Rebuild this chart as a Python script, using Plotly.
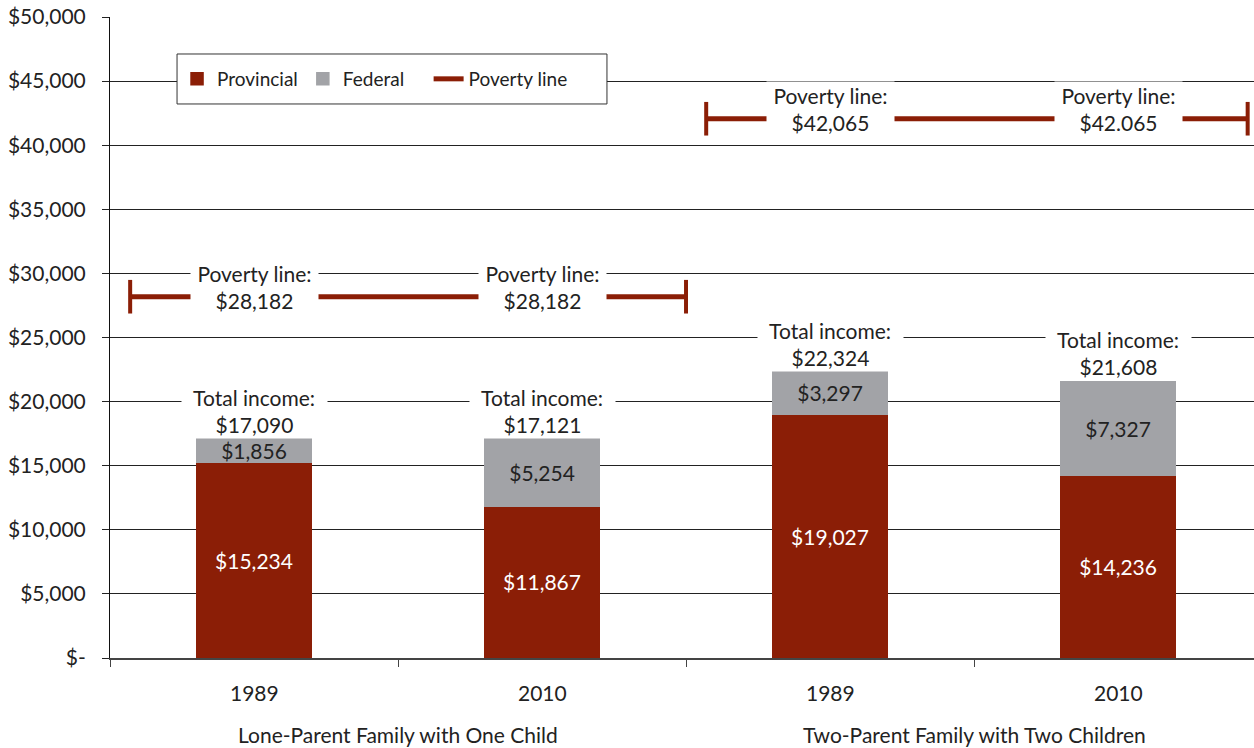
import plotly.graph_objects as go

# ---- data ----
years = ["1989", "2010", "1989", "2010"]
groups = ["Lone-Parent Family with One Child", "Two-Parent Family with Two Children"]
provincial = [15234, 11867, 19027, 14236]
federal = [1856, 5254, 3297, 7327]
total_income = [17090, 17121, 22324, 21608]
provincial_labels = ["$15,234", "$11,867", "$19,027", "$14,236"]
federal_labels = ["$1,856", "$5,254", "$3,297", "$7,327"]
total_labels = ["$17,090", "$17,121", "$22,324", "$21,608"]
poverty_line = [28182, 42065]
poverty_labels = ["$28,182", "$28,182", "$42,065", "$42.065"]
y_tickvals = [0, 5000, 10000, 15000, 20000, 25000, 30000, 35000, 40000, 45000, 50000]
y_ticktext = ["$-", "$5,000", "$10,000", "$15,000", "$20,000", "$25,000",
              "$30,000", "$35,000", "$40,000", "$45,000", "$50,000"]

# ---- style ----
RED = "#8B1E06"
GREY = "#A2A3A7"
TXT = "#222222"
FONT = "Lato"
FS = 21

xpos = list(range(len(years)))
group_members = [[0, 1], [2, 3]]
# extent of each poverty line in category units
pov_start = [-0.43, 1.57]
pov_end = [1.5, 3.45]

fig = go.Figure()
fig.add_trace(go.Bar(
    x=xpos, y=provincial, name="Provincial", width=0.4,
    marker=dict(color=RED, line=dict(width=1.5, color=RED)),
    text=provincial_labels, textposition="inside", insidetextanchor="middle",
    textfont=dict(color="white", size=FS, family=FONT), hoverinfo="skip",
))
fig.add_trace(go.Bar(
    x=xpos, y=federal, name="Federal&nbsp;&nbsp;&nbsp;&nbsp;", width=0.4,
    marker=dict(color=GREY, line=dict(width=1.5, color=GREY)),
    text=federal_labels, textposition="inside", insidetextanchor="middle",
    textfont=dict(color=TXT, size=FS, family=FONT), hoverinfo="skip",
))
# legend-only entry for the poverty line
fig.add_trace(go.Scatter(x=[None], y=[None], mode="lines", name="Poverty line",
                         line=dict(color=RED, width=5)))
for g, val in enumerate(poverty_line):
    fig.add_trace(go.Scatter(
        x=[pov_start[g], pov_end[g]], y=[val, val], mode="lines+markers",
        line=dict(color=RED, width=5), showlegend=False, hoverinfo="skip",
        cliponaxis=False,
        marker=dict(symbol="line-ns", size=24, color=RED, line=dict(color=RED, width=4)),
    ))

ann = []
# total income labels
for i in xpos:
    ann.append(dict(x=i, y=total_income[i], xref="x", yref="y",
                    text="&nbsp;&nbsp;Total income:&nbsp;&nbsp;<br>" + total_labels[i],
                    showarrow=False, yanchor="bottom", bgcolor="white", borderpad=1,
                    font=dict(size=FS, color=TXT, family=FONT)))
# poverty line labels
for g, members in enumerate(group_members):
    for i in members:
        ann.append(dict(x=i, y=poverty_line[g], xref="x", yref="y",
                        text="&nbsp;Poverty line:&nbsp;<br>" + poverty_labels[i],
                        showarrow=False, yanchor="middle", yshift=10, bgcolor="white",
                        borderpad=1, font=dict(size=FS, color=TXT, family=FONT)))
# year labels
for i in xpos:
    ann.append(dict(x=i, y=0, xref="x", yref="paper", text=years[i], showarrow=False,
                    yanchor="middle", yshift=-34, font=dict(size=FS, color=TXT, family=FONT)))
# group labels
for g, members in enumerate(group_members):
    ann.append(dict(x=sum(members) / len(members), y=0, xref="x", yref="paper",
                    text=groups[g], showarrow=False, yanchor="middle", yshift=-76,
                    font=dict(size=FS, color=TXT, family=FONT)))

fig.update_layout(
    width=1254, height=748,
    margin=dict(l=110, r=0, t=17, b=90, autoexpand=False),
    plot_bgcolor="white", paper_bgcolor="white",
    barmode="stack",
    font=dict(family=FONT, size=FS, color=TXT),
    uniformtext=dict(minsize=FS, mode="show"),
    annotations=ann,
    shapes=[dict(type="rect", xref="paper", yref="paper", x0=0.0586, x1=0.4344,
                 y0=0.8643, y1=0.9423, fillcolor="white", line=dict(color="#333", width=1),
                 layer="above")],
    legend=dict(orientation="h", x=0.0586, xanchor="left", y=0.9033, yanchor="middle",
                bgcolor="rgba(0,0,0,0)", borderwidth=0,
                font=dict(size=19, color=TXT, family=FONT), traceorder="normal"),
    xaxis=dict(range=[-0.5, 3.472], tickvals=[-0.5, 0.5, 1.5, 2.5], showticklabels=False,
               ticks="outside", ticklen=7, tickcolor="#444", showline=True,
               linecolor="#444", linewidth=2, showgrid=False, zeroline=False),
    yaxis=dict(range=[0, 50000], tickvals=y_tickvals, ticktext=y_ticktext,
               ticks="outside", ticklen=7, tickcolor="#222", showline=True,
               linecolor="#111", linewidth=1, showgrid=True, gridcolor="#222",
               gridwidth=1, zeroline=False, ticklabelstandoff=12,
               tickfont=dict(size=FS, color=TXT, family=FONT)),
)

fig.write_html("out.html", config={"displayModeBar": False},
               post_script="document.body.style.margin='0px';document.body.style.overflow='hidden';")
